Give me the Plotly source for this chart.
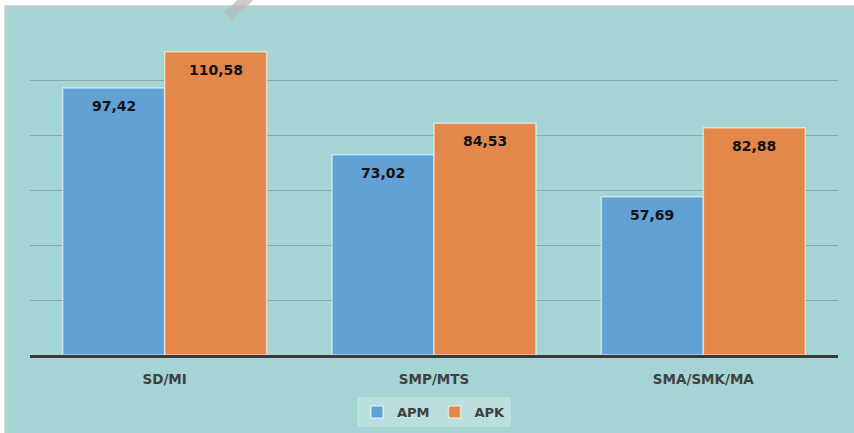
import plotly.graph_objects as go

categories = ["SD/MI", "SMP/MTS", "SMA/SMK/MA"]
apm = [97.42, 73.02, 57.69]
apk = [110.58, 84.53, 82.88]
series_names = ["APM", "APK"]
colors = ["#62A1D5", "#E3874A"]

def fmt(v):
    return f"{v:.2f}".replace(".", ",")

fig = go.Figure()
for name, vals, col in zip(series_names, [apm, apk], colors):
    fig.add_trace(go.Bar(
        name=name, x=categories, y=vals,
        marker=dict(color=col, line=dict(color="rgba(255,255,255,0.55)", width=1.5)),
        hoverinfo="skip",
    ))

bargap = 0.243
bw = (1 - bargap) / 2
anns = []
for si, vals in enumerate([apm, apk]):
    off = -bw / 2 if si == 0 else bw / 2
    for i, v in enumerate(vals):
        anns.append(dict(
            x=i + off, y=v, xref="x", yref="y", text="<b>" + fmt(v) + "</b>",
            showarrow=False, yanchor="middle", yshift=-18,
            font=dict(family="DejaVu Sans", size=14, color="#111111"),
        ))

W, H = 854, 433
ml, mr, mt, mb = 30, 16, 26, 78
pw, ph = W - ml - mr, H - mt - mb

def px_x(x):
    return (x - ml) / pw

def px_y(y):
    return (H - mb - y) / ph

shapes = [
    dict(type="rect", xref="paper", yref="paper", x0=px_x(5), x1=px_x(W + 2), y0=px_y(H + 2), y1=px_y(6),
         fillcolor="#A5D4D4", line=dict(color="#C8CCCC", width=1.5), layer="below"),
    dict(type="line", xref="paper", yref="paper", x0=px_x(250), y0=px_y(-4), x1=px_x(228), y1=px_y(16),
         line=dict(color="rgba(185,185,185,0.75)", width=11)),
]

fig.update_layout(
    width=W, height=H,
    margin=dict(l=ml, r=mr, t=mt, b=mb, autoexpand=False),
    paper_bgcolor="white", plot_bgcolor="#A5D4D4",
    barmode="group", bargap=bargap, bargroupgap=0.0,
    showlegend=True,
    legend=dict(orientation="h", x=0.5, xanchor="center",
                yref="container", y=(H - 397) / H, yanchor="top",
                bgcolor="rgba(255,255,255,0.25)",
                font=dict(family="DejaVu Sans", size=13, color="#404040", weight="bold"),
                itemwidth=30, tracegroupgap=0),
    annotations=anns,
    shapes=shapes,
    font=dict(family="DejaVu Sans"),
)
fig.update_xaxes(showline=True, linecolor="#3A3A3A", linewidth=2.5, ticks="",
                 tickfont=dict(family="DejaVu Sans", size=13.5, color="#404040", weight="bold"),
                 ticklabelstandoff=10)
fig.update_yaxes(range=[0, 120], dtick=20, showgrid=True, gridcolor="rgba(110,135,135,0.55)",
                 gridwidth=1, showticklabels=False, zeroline=False, ticks="")

fig.write_html("out.html", config={"displayModeBar": False},
               post_script="document.body.style.margin='0';document.body.style.overflow='hidden';")
